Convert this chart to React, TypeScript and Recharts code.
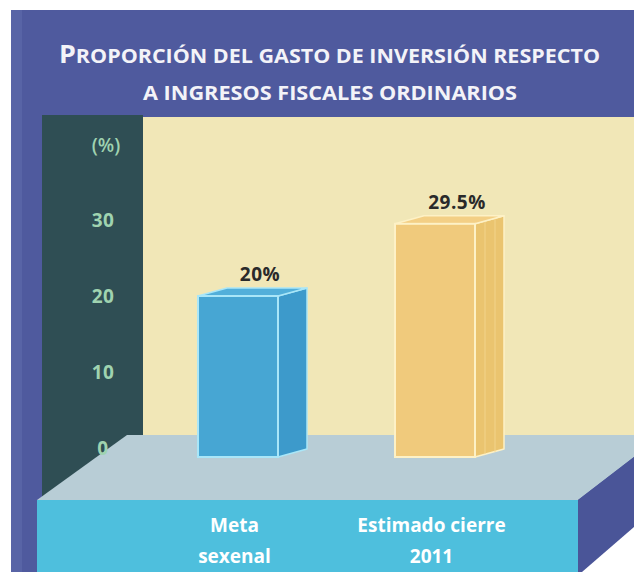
import React from "react";
import { BarChart, Bar, XAxis, YAxis, LabelList } from "recharts";

// ── Data ───────────────────────────────────────────────────────────────────

const categories = ["Meta sexenal", "Estimado cierre 2011"];
const categoryLines = [
  ["Meta", "sexenal"],
  ["Estimado cierre", "2011"],
];
const values = [20, 29.5];
const valueLabels = ["20%", "29.5%"];
const yTicks = [0, 10, 20, 30];
const unitLabel = "(%)";
const titleFirst = "P";
const titleRest = "ROPORCIÓN DEL GASTO DE INVERSIÓN RESPECTO";
const titleLine2 = "A INGRESOS FISCALES ORDINARIOS";

// ── Colours ────────────────────────────────────────────────────────────────

const colors = {
  panel: "#4f5a9e",
  panelEdge: "#5864a6",
  sideFace: "#4a5598",
  axisCol: "#2f4e54",
  cream: "#f1e7b7",
  floor: "#b8cdd6",
  band: "#4ebfdd",
  tick: "#9fd3b0",
  title: "#f3f3f8",
  value: "#2a2a2a",
};

const barColors = [
  { front: "#47a6d3", side: "#3d9acb", top: "#52afda", stroke: "#a9e6f8" },
  { front: "#f0ca7c", side: "#eac46f", top: "#f3cf85", stroke: "#fdf1c6" },
];

const FONT = "'Open Sans', 'DejaVu Sans', sans-serif";

const data = categories.map((name, i) => ({ name, value: values[i] }));

// ── 3D box bar ─────────────────────────────────────────────────────────────

function Box3D(props: any) {
  const { x, y, width, height, index } = props;
  const c = barColors[index % barColors.length];
  const dx = 29;
  const dy = 8;
  const bottom = y + height + 9; // box stands on the floor
  const r = x + width;
  return (
    <g>
      <polygon
        points={`${r},${y} ${r + dx},${y - dy} ${r + dx},${bottom - dy} ${r},${bottom}`}
        fill={c.side}
        stroke={c.stroke}
        strokeWidth={1.5}
        strokeLinejoin="round"
      />
      {index === 1 && (
        <g stroke="#f6d894" strokeWidth={1} opacity={0.8}>
          <line x1={r + 10} y1={y - 3} x2={r + 10} y2={bottom - 3} />
          <line x1={r + 20} y1={y - 5} x2={r + 20} y2={bottom - 5} />
        </g>
      )}
      <polygon
        points={`${x},${y} ${x + dx},${y - dy} ${r + dx},${y - dy} ${r},${y}`}
        fill={c.top}
        stroke={c.stroke}
        strokeWidth={1.5}
        strokeLinejoin="round"
      />
      <rect
        x={x}
        y={y}
        width={width}
        height={bottom - y}
        fill={c.front}
        stroke={c.stroke}
        strokeWidth={2}
      />
    </g>
  );
}

function ValueLabel(props: any) {
  const { x, y, width, index } = props;
  return (
    <text
      x={x + width / 2 + 22}
      y={y - 15}
      textAnchor="middle"
      fontFamily={FONT}
      fontWeight={700}
      fontSize={19}
      letterSpacing={0.5}
      fill={colors.value}
    >
      {valueLabels[index]}
    </text>
  );
}

function YTick(props: any) {
  const { x, y, payload } = props;
  return (
    <text
      x={x - 36}
      y={y + 7}
      textAnchor="middle"
      fontFamily={FONT}
      fontWeight={700}
      fontSize={19}
      letterSpacing={0.5}
      fill={colors.tick}
    >
      {payload.value}
    </text>
  );
}

function UnitLabel(props: any) {
  const { viewBox } = props;
  if (!viewBox) return null;
  return (
    <text
      x={viewBox.x + viewBox.width - 33}
      y={viewBox.y + 8}
      textAnchor="middle"
      fontFamily={FONT}
      fontWeight={600}
      fontSize={19}
      fill={colors.tick}
    >
      {unitLabel}
    </text>
  );
}

function XTick(props: any) {
  const { x, y, index } = props;
  const lines = categoryLines[index] || [];
  return (
    <g>
      {lines.map((line, i) => (
        <text
          key={line}
          x={x - 3}
          y={y + 84 + i * 31}
          textAnchor="middle"
          fontFamily={FONT}
          fontWeight={700}
          fontSize={19}
          fill="#ffffff"
        >
          {line}
        </text>
      ))}
    </g>
  );
}

// ── Decorative frame (panel, wall, floor) ──────────────────────────────────

function Backdrop() {
  return (
    <svg width={634} height={572} style={{ position: "absolute", left: 0, top: 0 }}>
      <rect x={0} y={0} width={634} height={572} fill="#ffffff" />
      <rect x={11} y={10} width={623} height={562} fill={colors.panel} />
      <rect x={11} y={10} width={11} height={562} fill={colors.panelEdge} />
      <rect x={42} y={115} width={101} height={390} fill={colors.axisCol} />
      <rect x={143} y={117} width={491} height={320} fill={colors.cream} />
      <polygon points="37,500 127,435 634,435 634,457 578,500" fill={colors.floor} />
      <polygon points="578,500 634,457 634,527 582,572 578,572" fill={colors.sideFace} />
      <polygon points="582,572 634,527 634,572" fill="#ffffff" />
      <rect x={37} y={500} width={541} height={72} fill={colors.band} />
      <text
        x={59}
        y={63}
        fontFamily={FONT}
        fontWeight={700}
        fill={colors.title}
        textLength={541}
        lengthAdjust="spacingAndGlyphs"
      >
        <tspan fontSize={25}>{titleFirst}</tspan>
        <tspan fontSize={20}>{titleRest}</tspan>
      </text>
      <text
        x={143}
        y={100}
        fontFamily={FONT}
        fontWeight={700}
        fontSize={20}
        fill={colors.title}
        textLength={374}
        lengthAdjust="spacingAndGlyphs"
      >
        {titleLine2}
      </text>
    </svg>
  );
}

// ── Main ───────────────────────────────────────────────────────────────────

export default function App() {
  return (
    <div style={{ position: "absolute", left: 0, top: 0, width: 634, height: 572 }}>
      <Backdrop />
      <div style={{ position: "absolute", left: 0, top: 0 }}>
        <BarChart
          width={634}
          height={572}
          data={data}
          margin={{ top: 144, right: 101, bottom: 24, left: 0 }}
          barSize={80}
        >
          <YAxis
            type="number"
            domain={[0, 40]}
            ticks={yTicks}
            interval={0}
            width={139}
            axisLine={false}
            tickLine={false}
            tickSize={0}
            tickMargin={0}
            tick={<YTick />}
            label={<UnitLabel />}
          />
          <XAxis
            dataKey="name"
            height={100}
            interval={0}
            axisLine={false}
            tickLine={false}
            tickSize={0}
            tickMargin={0}
            tick={<XTick />}
          />
          <Bar dataKey="value" shape={<Box3D />} isAnimationActive={false}>
            <LabelList dataKey="value" content={<ValueLabel />} />
          </Bar>
        </BarChart>
      </div>
    </div>
  );
}
